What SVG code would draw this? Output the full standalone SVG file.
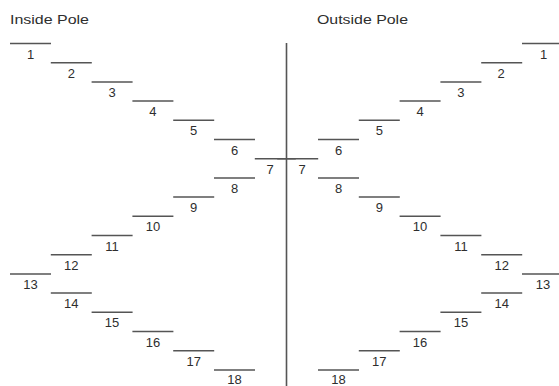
<svg xmlns="http://www.w3.org/2000/svg" width="559" height="386" viewBox="0 0 559 386">
<style>
.bg{fill:#ffffff}
.st{stroke:#555555;stroke-width:1.5;fill:none}
.lb{font-family:"Liberation Sans",Arial,sans-serif;font-size:13px;fill:#2e2e2e;text-anchor:middle}
.tt{font-family:"Liberation Sans",Arial,sans-serif;font-size:13px;fill:#2e2e2e}
.pole{stroke:#555555;stroke-width:1.6;fill:none}
</style>
<rect class="bg" x="0" y="0" width="559" height="386"/>
<g id="titles">
<text class="tt" x="10" y="24" textLength="79" lengthAdjust="spacingAndGlyphs">Inside Pole</text>
<text class="tt" x="317" y="24" textLength="91" lengthAdjust="spacingAndGlyphs">Outside Pole</text>
</g>
<g id="connectors">
<line class="pole" x1="286.5" y1="43" x2="286.5" y2="386"/>
</g>
<g id="inside">
<g id="in1"><line class="st" x1="10" y1="43.5" x2="51" y2="43.5"/><text class="lb" x="30.5" y="58.5">1</text></g>
<g id="in2"><line class="st" x1="50.8" y1="62.7" x2="91.8" y2="62.7"/><text class="lb" x="71.3" y="77.7">2</text></g>
<g id="in3"><line class="st" x1="91.6" y1="81.9" x2="132.6" y2="81.9"/><text class="lb" x="112.1" y="96.9">3</text></g>
<g id="in4"><line class="st" x1="132.4" y1="101.1" x2="173.4" y2="101.1"/><text class="lb" x="152.9" y="116.1">4</text></g>
<g id="in5"><line class="st" x1="173.2" y1="120.3" x2="214.2" y2="120.3"/><text class="lb" x="193.7" y="135.3">5</text></g>
<g id="in6"><line class="st" x1="214" y1="139.5" x2="255" y2="139.5"/><text class="lb" x="234.5" y="154.5">6</text></g>
<g id="in7"><line class="st" x1="254.8" y1="158.7" x2="295.8" y2="158.7"/><text class="lb" x="270" y="173.7">7</text></g>
<g id="in8"><line class="st" x1="214" y1="177.9" x2="255" y2="177.9"/><text class="lb" x="234.5" y="192.9">8</text></g>
<g id="in9"><line class="st" x1="173.2" y1="197.1" x2="214.2" y2="197.1"/><text class="lb" x="193.7" y="212.1">9</text></g>
<g id="in10"><line class="st" x1="132.4" y1="216.3" x2="173.4" y2="216.3"/><text class="lb" x="152.9" y="231.3">10</text></g>
<g id="in11"><line class="st" x1="91.6" y1="235.5" x2="132.6" y2="235.5"/><text class="lb" x="112.1" y="250.5">11</text></g>
<g id="in12"><line class="st" x1="50.8" y1="254.7" x2="91.8" y2="254.7"/><text class="lb" x="71.3" y="269.7">12</text></g>
<g id="in13"><line class="st" x1="10" y1="273.9" x2="51" y2="273.9"/><text class="lb" x="30.5" y="288.9">13</text></g>
<g id="in14"><line class="st" x1="50.8" y1="293.1" x2="91.8" y2="293.1"/><text class="lb" x="71.3" y="308.1">14</text></g>
<g id="in15"><line class="st" x1="91.6" y1="312.3" x2="132.6" y2="312.3"/><text class="lb" x="112.1" y="327.3">15</text></g>
<g id="in16"><line class="st" x1="132.4" y1="331.5" x2="173.4" y2="331.5"/><text class="lb" x="152.9" y="346.5">16</text></g>
<g id="in17"><line class="st" x1="173.2" y1="350.7" x2="214.2" y2="350.7"/><text class="lb" x="193.7" y="365.7">17</text></g>
<g id="in18"><line class="st" x1="214" y1="369.9" x2="255" y2="369.9"/><text class="lb" x="234.5" y="384">18</text></g>
</g>
<g id="outside">
<g id="out1"><line class="st" x1="522" y1="43.5" x2="563" y2="43.5"/><text class="lb" x="543.5" y="58.5">1</text></g>
<g id="out2"><line class="st" x1="481.2" y1="62.7" x2="522.2" y2="62.7"/><text class="lb" x="501.2" y="77.7">2</text></g>
<g id="out3"><line class="st" x1="440.4" y1="81.9" x2="481.4" y2="81.9"/><text class="lb" x="460.9" y="96.9">3</text></g>
<g id="out4"><line class="st" x1="399.6" y1="101.1" x2="440.6" y2="101.1"/><text class="lb" x="420.1" y="116.1">4</text></g>
<g id="out5"><line class="st" x1="358.8" y1="120.3" x2="399.8" y2="120.3"/><text class="lb" x="379.3" y="135.3">5</text></g>
<g id="out6"><line class="st" x1="318" y1="139.5" x2="359" y2="139.5"/><text class="lb" x="338.5" y="154.5">6</text></g>
<g id="out7"><line class="st" x1="277.2" y1="158.7" x2="318.2" y2="158.7"/><text class="lb" x="302" y="173.7">7</text></g>
<g id="out8"><line class="st" x1="318" y1="177.9" x2="359" y2="177.9"/><text class="lb" x="338.5" y="192.9">8</text></g>
<g id="out9"><line class="st" x1="358.8" y1="197.1" x2="399.8" y2="197.1"/><text class="lb" x="379.3" y="212.1">9</text></g>
<g id="out10"><line class="st" x1="399.6" y1="216.3" x2="440.6" y2="216.3"/><text class="lb" x="420.1" y="231.3">10</text></g>
<g id="out11"><line class="st" x1="440.4" y1="235.5" x2="481.4" y2="235.5"/><text class="lb" x="460.9" y="250.5">11</text></g>
<g id="out12"><line class="st" x1="481.2" y1="254.7" x2="522.2" y2="254.7"/><text class="lb" x="501.7" y="269.7">12</text></g>
<g id="out13"><line class="st" x1="522" y1="273.9" x2="563" y2="273.9"/><text class="lb" x="543" y="288.9">13</text></g>
<g id="out14"><line class="st" x1="481.2" y1="293.1" x2="522.2" y2="293.1"/><text class="lb" x="501.7" y="308.1">14</text></g>
<g id="out15"><line class="st" x1="440.4" y1="312.3" x2="481.4" y2="312.3"/><text class="lb" x="460.9" y="327.3">15</text></g>
<g id="out16"><line class="st" x1="399.6" y1="331.5" x2="440.6" y2="331.5"/><text class="lb" x="420.1" y="346.5">16</text></g>
<g id="out17"><line class="st" x1="358.8" y1="350.7" x2="399.8" y2="350.7"/><text class="lb" x="379.3" y="365.7">17</text></g>
<g id="out18"><line class="st" x1="318" y1="369.9" x2="359" y2="369.9"/><text class="lb" x="338.5" y="384">18</text></g>
</g>
</svg>
